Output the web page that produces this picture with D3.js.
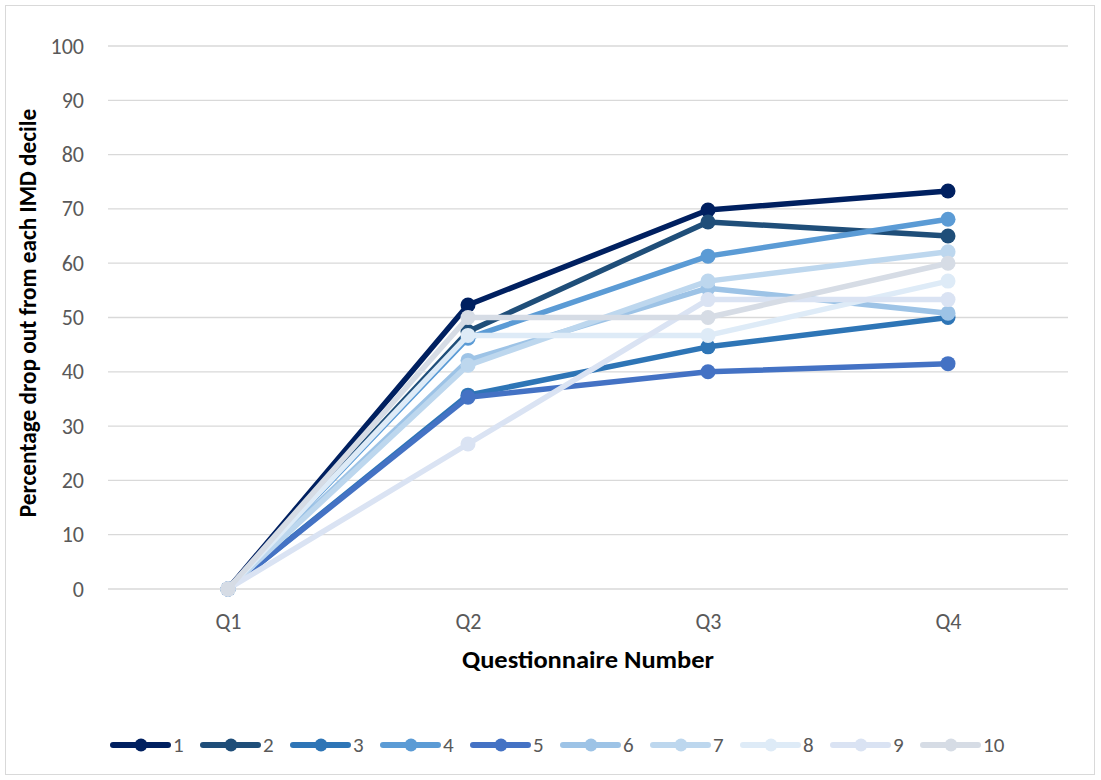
<!DOCTYPE html>
<html><head><meta charset="utf-8">
<script src="https://cdn.jsdelivr.net/npm/d3@7"></script>
<style>body{margin:0;background:#fff;} svg{display:block;}</style>
</head><body>
<svg id="c" width="1101" height="780"></svg>
<script>
const categories = ["Q1","Q2","Q3","Q4"];
const seriesNames = ["1","2","3","4","5","6","7","8","9","10"];
const s1 = [0, 52.3, 69.8, 73.3];
const s2 = [0, 47.4, 67.6, 65.0];
const s3 = [0, 35.7, 44.6, 50.0];
const s4 = [0, 46.2, 61.3, 68.1];
const s5 = [0, 35.3, 40.0, 41.5];
const s6 = [0, 42.1, 55.4, 50.8];
const s7 = [0, 41.2, 56.7, 62.1];
const s8 = [0, 46.7, 46.7, 56.7];
const s9 = [0, 26.7, 53.3, 53.3];
const s10 = [0, 50.0, 50.0, 60.0];
const yTicks = [0,10,20,30,40,50,60,70,80,90,100];
const colors = ["#002060","#1F4E79","#2E75B6","#5B9BD5","#4472C4","#9DC3E6","#BDD7EE","#DEEBF7","#DAE3F3","#D6DCE5"];
const allSeries = [s1,s2,s3,s4,s5,s6,s7,s8,s9,s10];

const svg = d3.select("#c");
svg.append("rect").attr("x",5.5).attr("y",5.5).attr("width",1089).attr("height",769)
  .attr("fill","#fff").attr("stroke","#d9d9d9").attr("stroke-width",1);

const pL=108, pR=1068, pT=46, pB=589;
const FONT = "Carlito, 'Liberation Sans', Arial, sans-serif";
const x = d3.scalePoint().domain(categories).range([pL,pR]).padding(0.5);
const y = d3.scaleLinear().domain([0,100]).range([pB,pT]);

svg.append("g").selectAll("line").data(yTicks).join("line")
  .attr("x1",pL).attr("x2",pR).attr("y1",d=>y(d)).attr("y2",d=>y(d))
  .attr("stroke","#d9d9d9").attr("stroke-width",1.3);

const yAxis = d3.axisLeft(y).tickValues(yTicks).tickSize(0).tickPadding(0);
const ya = svg.append("g").attr("transform",`translate(${pL-24},0)`).call(yAxis);
ya.select(".domain").remove();
ya.selectAll("text").attr("font-family",FONT).attr("font-size",22).attr("fill","#595959");

const xAxis = d3.axisBottom(x).tickSize(0).tickPadding(0);
const xa = svg.append("g").attr("transform",`translate(0,${pB+32})`).call(xAxis);
xa.select(".domain").remove();
xa.selectAll("text").attr("font-family",FONT).attr("font-size",22).attr("fill","#595959").attr("dy","0.35em");

svg.append("text").attr("x",588).attr("y",668).attr("text-anchor","middle")
  .attr("font-family",FONT).attr("font-weight","bold").attr("font-size",24).attr("fill","#000")
  .attr("textLength",252).attr("lengthAdjust","spacingAndGlyphs")
  .text("Questionnaire Number");
svg.append("text").attr("transform",`translate(36,313) rotate(-90)`).attr("text-anchor","middle")
  .attr("font-family",FONT).attr("font-weight","bold").attr("font-size",23.3).attr("fill","#000")
  .text("Percentage drop out from each IMD decile");

const line = d3.line().x((d,i)=>x(categories[i])).y(d=>y(d));
allSeries.forEach((s,k)=>{
  const sg = svg.append("g");
  sg.append("path").attr("d",line(s)).attr("fill","none").attr("stroke",colors[k]).attr("stroke-width",5.5).attr("stroke-linejoin","round");
  sg.selectAll("circle").data(s).join("circle").attr("cx",(d,i)=>x(categories[i])).attr("cy",d=>y(d)).attr("r",7.5).attr("fill",colors[k]);
});

const leg = svg.append("g");
seriesNames.forEach((n,i)=>{
  const lx = 113 + i*90, ly = 745;
  leg.append("line").attr("x1",lx).attr("x2",lx+55).attr("y1",ly).attr("y2",ly).attr("stroke",colors[i]).attr("stroke-width",6).attr("stroke-linecap","round");
  leg.append("circle").attr("cx",lx+28).attr("cy",ly).attr("r",6.5).attr("fill",colors[i]);
  leg.append("text").attr("x",lx+60).attr("y",ly).attr("dy","0.35em")
    .attr("font-family",FONT).attr("font-size",21).attr("fill","#595959").text(n);
});
</script>
</body></html>
